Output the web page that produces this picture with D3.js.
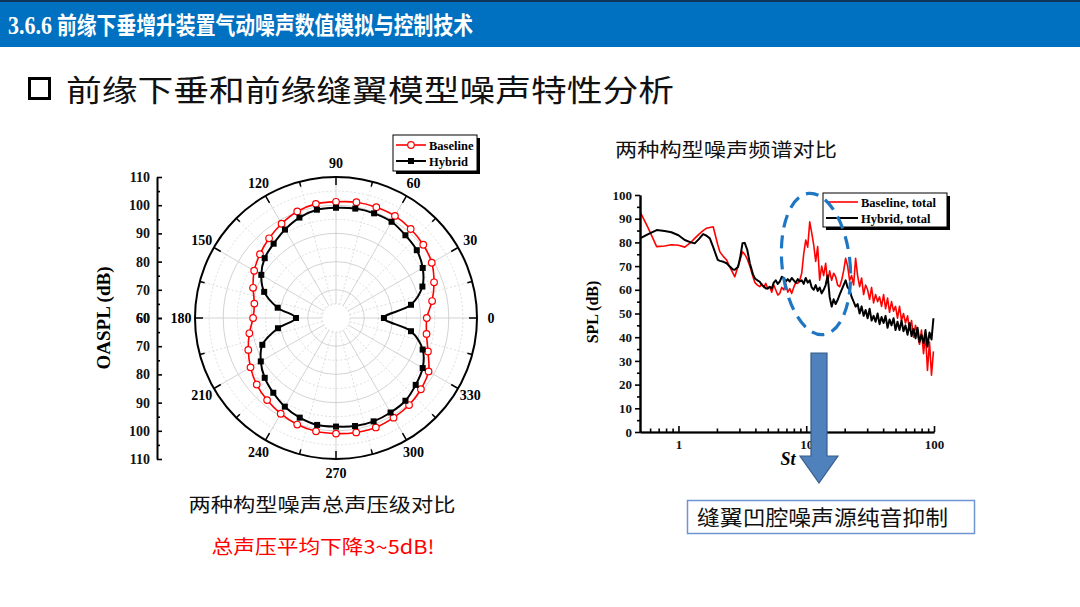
<!DOCTYPE html>
<html><head><meta charset="utf-8">
<script src="https://cdn.jsdelivr.net/npm/d3@7/dist/d3.min.js"></script>
<style>body{margin:0;background:#fff;} svg{display:block;}</style>
</head><body>
<svg id="c" width="1080" height="607"></svg>
<script>
// ---------------- DATA ----------------
const headerNum = "3.6.6";
const headerTitle = "前缘下垂增升装置气动噪声数值模拟与控制技术";
const subTitle = "前缘下垂和前缘缝翼模型噪声特性分析";
const polarCaption = "两种构型噪声总声压级对比";
const polarNote = "总声压平均下降3~5dB!";
const spectrumCaption = "两种构型噪声频谱对比";
const boxText = "缝翼凹腔噪声源纯音抑制";
const polarSeriesNames = ["Baseline", "Hybrid"];
const spectrumSeriesNames = ["Baseline, total", "Hybrid, total"];

const polarAngles = [0,10,20,30,40,50,60,70,80,90,100,110,120,130,140,150,160,170,180,190,200,210,220,230,240,250,260,270,280,290,300,310,320,330,340,350];
const polarBaseline = [92.2,94.6,97.0,99.2,100.4,101.2,101.8,101.8,101.7,101.2,101.1,100.2,98.6,96.9,95.2,93.5,91.3,89.4,89.4,91.2,93.1,95.0,96.7,98.0,99.2,100.2,100.8,101.0,101.2,101.3,100.8,100.3,99.3,97.9,94.7,92.6];
const polarHybrid = [77.0,87.0,92.6,95.5,97.4,98.3,99.4,99.5,99.4,99.1,99.0,97.9,96.2,94.4,93.0,90.6,87.1,81.0,74.2,80.9,87.8,90.8,93.0,94.6,96.3,97.6,98.5,98.5,98.9,99.0,98.7,98.3,96.9,95.5,92.7,87.0];
const polarAngleLabels = [0,30,60,90,120,150,180,210,240,270,300,330];
const polarRadialTicks = [60,70,80,90,100,110];
const polarRadialDomain = [60,110];

const spectrumSt = [0.5,0.58,0.675,0.78,0.88,1.0,1.12,1.25,1.34,1.45,1.56,1.66,1.76,1.87,2.03,2.11,2.25,2.38,2.5,2.67,2.76,2.93,3.05,3.17,3.3,3.45,3.62,3.83,3.97,4.15,
4.33,4.49,4.65,4.82,5.0,5.18,5.37,5.57,5.77,5.99,6.21,6.43,6.67,6.91,7.17,7.43,7.70,7.98,8.28,8.58,8.89,9.22,9.55,9.91,10.27,10.65,11.04,11.44,11.86,12.29,12.74,13.21,13.69,14.19,14.71,15.25,15.81,16.39,16.99,17.61,18.26,18.93,19.62,20.34,21.09,21.86,22.66,23.49,24.35,25.24,26.17,27.13,28.12,29.15,30.22,31.33,32.47,33.66,34.90,36.18,37.50,38.87,40.30,41.78,43.30,44.89,46.53,48.24,50.0,51.8,53.7,55.7,57.7,59.8,62.1,64.3,66.7,69.1,71.7,74.3,77.0,79.8,82.8,85.8,88.9,92.2,95.6,99.0];
const spectrumBaseline = [93,86,78.2,78.5,79,78.8,78,80,81.7,83.5,85,86,86.3,86.6,79,76,74,72.6,70,67,65.5,70,73,76,75,73,70,65.5,63,62,
61.3,62.5,61,62.7,60.5,61.3,59,62,60,57.8,
58.5,61,60,62.7,59,60.5,58.5,61,63,62.7,
64,67,75,81,78,88.7,84,79,72,78.2,
64.1,70,66,71.2,63,68,64,67,65.5,62,
61.3,64,68,73.3,70,64,66,62,73.3,66,
61.3,65,58,62,60,56,61,54.5,58,55,
57,53,58,52,56.5,50.5,55,51,53,48,
53,47,50,46,49,43,47,40,45,41,
37,43,33,41,26,38,24,34];
const spectrumHybrid = [81.7,83.5,85.2,84.8,84.3,83,81,80,79.6,81.5,83.5,82.8,81.7,78,72.6,72.2,71.8,71.2,70,68.6,68.5,69.7,74,79.6,79.8,77,71.2,66.5,64.8,64,
63.4,62,61.5,60.6,60.6,61.3,60.5,63,64,62.5,
63.5,65.5,65,63.5,64.5,63.5,65,64,63,64.5,
63.5,64,62.5,65,63,64,61,60,62,59.5,
61,58.5,60,62,66,57,52.9,56,54,55.7,
58,60,62,64,61,60,57,55,52.9,54,
50,53,49,51.5,48,52,47,49,46.5,50,
45.5,48.5,46,49,44,47.5,45,48,43,46.5,
43,47,42.5,45,41,46,40.5,43.5,39.5,44,
38,41,37.5,43,36,42,39,48];
const spectrumYTicks = [0,10,20,30,40,50,60,70,80,90,100];
const spectrumXTicks = [1,10,100];
const spectrumXDomain = [0.5,100];
const spectrumYDomain = [0,100];

// ---------------- DRAW ----------------
const svg = d3.select("#c");
const serif = "'Liberation Serif','Times New Roman',serif";
const cjk = "'Noto Sans CJK SC','Noto Sans',sans-serif";

// header bar
svg.append("rect").attr("x",0).attr("y",0).attr("width",1080).attr("height",47).attr("fill","#0070C0");
svg.append("rect").attr("x",0).attr("y",0).attr("width",1080).attr("height",2).attr("fill","#10355a");
svg.append("text").attr("x",8).attr("y",34).attr("fill","#fff").attr("font-weight","bold")
  .attr("font-family",serif).attr("font-size",26).attr("textLength",44).attr("lengthAdjust","spacingAndGlyphs").text(headerNum);
svg.append("text").attr("x",57).attr("y",34).attr("fill","#fff").attr("font-weight","bold")
  .attr("font-family",cjk).attr("font-size",24).attr("textLength",416).attr("lengthAdjust","spacingAndGlyphs").text(headerTitle);

// subtitle
svg.append("rect").attr("x",29.5).attr("y",78.5).attr("width",20).attr("height",20).attr("fill","none").attr("stroke","#000").attr("stroke-width",3);
svg.append("text").attr("x",66).attr("y",101).attr("font-family",cjk).attr("font-size",30)
  .attr("textLength",608).attr("lengthAdjust","spacingAndGlyphs").attr("fill","#111").text(subTitle);

// ---------- polar chart ----------
const cx = 336, cy = 318, R = 141;
const rScale = d3.scaleLinear().domain(polarRadialDomain).range([0,R]);
const rad = a => a*Math.PI/180;
const pg = svg.append("g");
d3.range(65,110,5).forEach(v=>{
  pg.append("circle").attr("cx",cx).attr("cy",cy).attr("r",rScale(v)).attr("fill","none")
    .attr("stroke", v%10===0 ? "#c8c8c8" : "#d6d6d6").attr("stroke-width",0.8)
    .attr("stroke-dasharray", v%10===0 ? null : "2,2");
});
d3.range(0,360,15).forEach(a=>{
  const r0 = rScale(65);
  pg.append("line").attr("x1",cx+r0*Math.cos(rad(a))).attr("y1",cy-r0*Math.sin(rad(a)))
    .attr("x2",cx+R*Math.cos(rad(a))).attr("y2",cy-R*Math.sin(rad(a)))
    .attr("stroke", a%30===0 ? "#c8c8c8" : "#d6d6d6").attr("stroke-width",0.8)
    .attr("stroke-dasharray", a%30===0 ? null : "2,2");
});
pg.append("circle").attr("cx",cx).attr("cy",cy).attr("r",R).attr("fill","none").attr("stroke","#000").attr("stroke-width",2);
d3.range(0,360,15).forEach(a=>{
  const L = a%30===0 ? 8 : 5;
  pg.append("line").attr("x1",cx+R*Math.cos(rad(a))).attr("y1",cy-R*Math.sin(rad(a)))
    .attr("x2",cx+(R-L)*Math.cos(rad(a))).attr("y2",cy-(R-L)*Math.sin(rad(a)))
    .attr("stroke","#000").attr("stroke-width",1.5);
});
polarAngleLabels.forEach(a=>{
  const lr = 155;
  pg.append("text").attr("x",cx+lr*Math.cos(rad(a))).attr("y",cy-lr*Math.sin(rad(a)))
    .attr("text-anchor","middle").attr("dominant-baseline","central")
    .attr("font-family",serif).attr("font-weight","bold").attr("font-size",14).text(a);
});
const polarPts = vals => polarAngles.map((a,i)=>[cx+rScale(vals[i])*Math.cos(rad(a)), cy-rScale(vals[i])*Math.sin(rad(a))]);
const closedLine = d3.line().curve(d3.curveCatmullRomClosed.alpha(0.5));
const bPts = polarPts(polarBaseline), hPts = polarPts(polarHybrid);
pg.append("path").attr("d",closedLine(bPts)).attr("fill","none").attr("stroke","#ff0000").attr("stroke-width",1.6);
pg.append("path").attr("d",closedLine(hPts)).attr("fill","none").attr("stroke","#000").attr("stroke-width",2);
pg.selectAll(".bm").data(bPts).enter().append("circle").attr("cx",d=>d[0]).attr("cy",d=>d[1]).attr("r",3.3)
  .attr("fill","#fff").attr("stroke","#ff0000").attr("stroke-width",1.2);
pg.selectAll(".hm").data(hPts).enter().append("rect").attr("x",d=>d[0]-3).attr("y",d=>d[1]-3).attr("width",6).attr("height",6).attr("fill","#000");

const axX = 157;
const yTop = d3.scaleLinear().domain(polarRadialDomain).range([cy, cy-R]);
const yBot = d3.scaleLinear().domain(polarRadialDomain).range([cy, cy+R]);
[yTop,yBot].forEach(s=>{
  const g = svg.append("g").attr("transform",`translate(${axX},0)`);
  g.call(d3.axisLeft(s).tickValues(polarRadialTicks).tickSizeInner(-5).tickSizeOuter(0).tickPadding(7));
  g.append("g").call(d3.axisLeft(s).tickValues(d3.range(65,110,5).filter(v=>v%10)).tickSizeInner(-3).tickSizeOuter(0).tickFormat(""));
  g.selectAll("path,line").attr("stroke","#000").attr("stroke-width",1.6);
  g.selectAll("text").attr("font-family",serif).attr("font-weight","bold").attr("font-size",14).attr("fill","#111");
});
svg.append("text").attr("transform",`translate(110,${cy}) rotate(-90)`).attr("text-anchor","middle")
  .attr("font-family",serif).attr("font-weight","bold").attr("font-size",19).text("OASPL (dB)");

const lg = svg.append("g");
lg.append("rect").attr("x",396).attr("y",138).attr("width",84).attr("height",36).attr("fill","#000");
lg.append("rect").attr("x",393).attr("y",135).attr("width",84).attr("height",36).attr("fill","#fff").attr("stroke","#000").attr("stroke-width",1);
lg.append("line").attr("x1",396).attr("x2",426).attr("y1",145).attr("y2",145).attr("stroke","#ff0000").attr("stroke-width",1.6);
lg.append("circle").attr("cx",411).attr("cy",145).attr("r",3.3).attr("fill","#fff").attr("stroke","#ff0000").attr("stroke-width",1.2);
lg.append("line").attr("x1",396).attr("x2",426).attr("y1",161).attr("y2",161).attr("stroke","#000").attr("stroke-width",2);
lg.append("rect").attr("x",408).attr("y",158).attr("width",6).attr("height",6).attr("fill","#000");
lg.append("text").attr("x",429).attr("y",149.5).attr("font-family",serif).attr("font-weight","bold").attr("font-size",12.5).text(polarSeriesNames[0]);
lg.append("text").attr("x",429).attr("y",165.5).attr("font-family",serif).attr("font-weight","bold").attr("font-size",12.5).text(polarSeriesNames[1]);

svg.append("text").attr("x",322).attr("y",512).attr("text-anchor","middle").attr("font-family",cjk).attr("font-size",19)
  .attr("textLength",267).attr("lengthAdjust","spacingAndGlyphs").attr("fill","#111").text(polarCaption);
svg.append("text").attr("x",323).attr("y",554).attr("text-anchor","middle").attr("font-family",cjk).attr("font-size",19)
  .attr("textLength",223).attr("lengthAdjust","spacingAndGlyphs").attr("fill","#ff0000").text(polarNote);

// ---------- spectrum chart ----------
const x = d3.scaleLog().domain(spectrumXDomain).range([640,934]);
const y = d3.scaleLinear().domain(spectrumYDomain).range([432,195]);
svg.append("text").attr("x",615).attr("y",157).attr("font-family",cjk).attr("font-size",19)
  .attr("textLength",222).attr("lengthAdjust","spacingAndGlyphs").attr("fill","#111").text(spectrumCaption);
svg.append("defs").append("clipPath").attr("id","sc").append("rect").attr("x",640).attr("y",190).attr("width",296).attr("height",242);
const sg = svg.append("g").attr("clip-path","url(#sc)");
const sLine = d3.line().x((d,i)=>x(spectrumSt[i])).y(d=>y(d));
sg.append("path").attr("d",sLine(spectrumBaseline)).attr("fill","none").attr("stroke","#ff0000").attr("stroke-width",1.6).attr("stroke-linejoin","round");
sg.append("path").attr("d",sLine(spectrumHybrid)).attr("fill","none").attr("stroke","#000").attr("stroke-width",2).attr("stroke-linejoin","round");

const xa = svg.append("g").attr("transform","translate(0,432)");
xa.call(d3.axisBottom(x).tickValues(spectrumXTicks).tickFormat(d3.format("d")).tickSizeInner(-6).tickSizeOuter(0).tickPadding(8));
const minorX = [0.6,0.7,0.8,0.9,2,3,4,5,6,7,8,9,20,30,40,50,60,70,80,90];
xa.append("g").call(d3.axisBottom(x).tickValues(minorX).tickSizeInner(-3.5).tickSizeOuter(0).tickFormat(""));
const ya = svg.append("g").attr("transform","translate(640,0)");
ya.call(d3.axisLeft(y).tickValues(spectrumYTicks).tickSizeInner(5).tickSizeOuter(0).tickPadding(3));
ya.append("g").call(d3.axisLeft(y).tickValues(d3.range(5,100,10)).tickSizeInner(3).tickSizeOuter(0).tickFormat(""));
[xa,ya].forEach(g=>{
  g.selectAll("path,line").attr("stroke","#000").attr("stroke-width",1.6);
  g.selectAll("text").attr("font-family",serif).attr("font-weight","bold").attr("font-size",13).attr("fill","#111");
});
xa.select(".domain").attr("stroke-width",2.2);
ya.select(".domain").attr("stroke-width",2.2);
svg.append("text").attr("transform","translate(598,312) rotate(-90)").attr("text-anchor","middle")
  .attr("font-family",serif).attr("font-weight","bold").attr("font-size",16).text("SPL (dB)");
svg.append("text").attr("x",788).attr("y",465).attr("text-anchor","middle")
  .attr("font-family",serif).attr("font-weight","bold").attr("font-style","italic").attr("font-size",18).text("St");

const lg2 = svg.append("g");
lg2.append("rect").attr("x",826).attr("y",196).attr("width",124).attr("height",34).attr("fill","#000");
lg2.append("rect").attr("x",823).attr("y",193).attr("width",124).attr("height",34).attr("fill","#fff").attr("stroke","#000").attr("stroke-width",1);
lg2.append("line").attr("x1",826).attr("x2",858).attr("y1",202).attr("y2",202).attr("stroke","#ff0000").attr("stroke-width",1.6);
lg2.append("line").attr("x1",826).attr("x2",858).attr("y1",218).attr("y2",218).attr("stroke","#000").attr("stroke-width",2);
lg2.append("text").attr("x",861).attr("y",206.5).attr("font-family",serif).attr("font-weight","bold").attr("font-size",12.5).text(spectrumSeriesNames[0]);
lg2.append("text").attr("x",861).attr("y",222.5).attr("font-family",serif).attr("font-weight","bold").attr("font-size",12.5).text(spectrumSeriesNames[1]);

svg.append("ellipse").attr("cx",816).attr("cy",264).attr("rx",34).attr("ry",71)
  .attr("transform","rotate(-6,816,264)")
  .attr("fill","none").attr("stroke","#1f77c4").attr("stroke-width",3.2).attr("stroke-dasharray","13,8");

svg.append("path").attr("d","M811,353 L827,353 L827,456 L838,456 L819,483 L800,456 L811,456 Z")
  .attr("fill","#4f81bd").attr("stroke","#385d8a").attr("stroke-width",1.2);

svg.append("rect").attr("x",687.5).attr("y",500.5).attr("width",287).attr("height",33).attr("fill","#fff").attr("stroke","#6f94d2").attr("stroke-width",1.5);
svg.append("text").attr("x",697).attr("y",525).attr("font-family",cjk).attr("font-size",21)
  .attr("textLength",251).attr("lengthAdjust","spacingAndGlyphs").attr("fill","#111").text(boxText);
</script>
</body></html>
